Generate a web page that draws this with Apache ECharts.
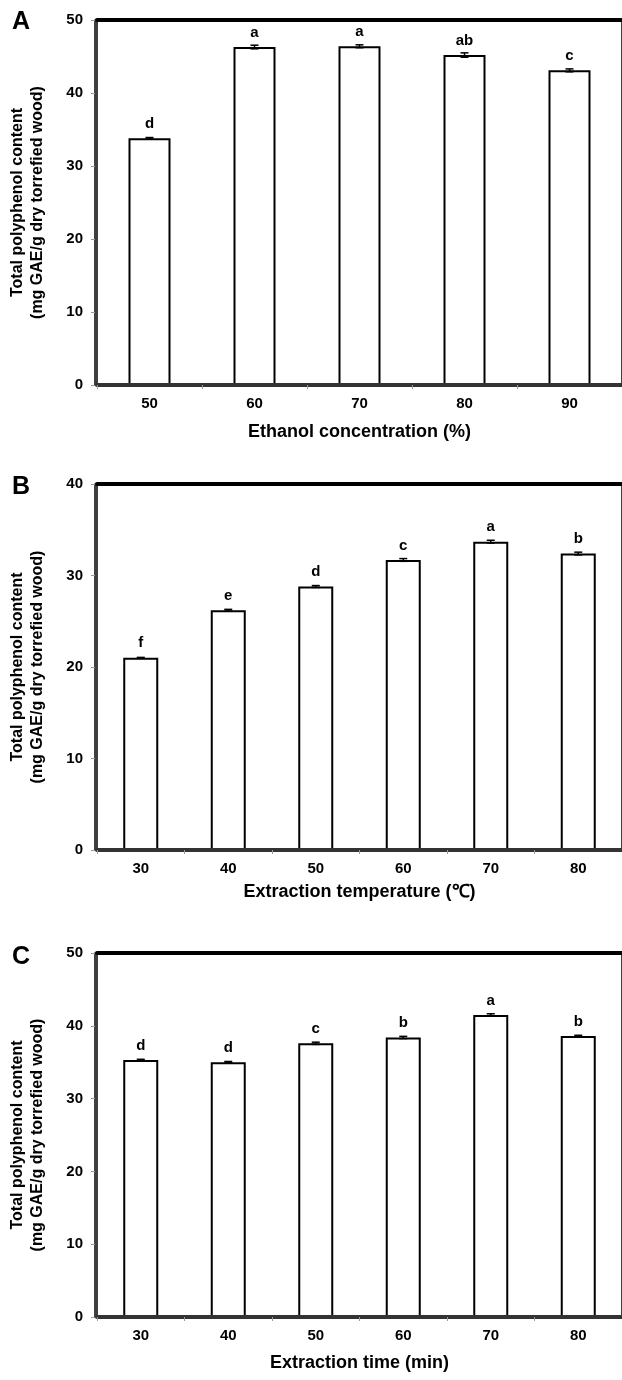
<!DOCTYPE html>
<html>
<head>
<meta charset="utf-8">
<script src="https://cdn.jsdelivr.net/npm/echarts@6/dist/echarts.min.js"></script>
<style>html,body{margin:0;padding:0;background:#fff;}#c{width:622px;height:1380px;}</style>
</head>
<body>
<div id="c"></div>
<script>
// Panel A
const catA = ['50', '60', '70', '80', '90'];
const valA = [33.8, 46.3, 46.4, 45.2, 43.1];
const errA = [0.1, 0.25, 0.2, 0.3, 0.2];
const letA = ['d', 'a', 'a', 'ab', 'c'];
// Panel B
const catB = ['30', '40', '50', '60', '70', '80'];
const valB = [21.0, 26.2, 28.8, 31.7, 33.7, 32.4];
const errB = [0.05, 0.1, 0.1, 0.15, 0.15, 0.15];
const letB = ['f', 'e', 'd', 'c', 'a', 'b'];
// Panel C
const catC = ['30', '40', '50', '60', '70', '80'];
const valC = [35.3, 35.0, 37.6, 38.4, 41.5, 38.6];
const errC = [0.1, 0.1, 0.15, 0.15, 0.15, 0.1];
const letC = ['d', 'd', 'c', 'b', 'a', 'b'];

const yTitle = 'Total polyphenol content\n(mg GAE/g dry torrefied wood)';
const xTitles = ['Ethanol concentration (%)', 'Extraction temperature (\u2103)', 'Extraction time (min)'];
const yMax = [50, 40, 50];
const panelLetters = ['A', 'B', 'C'];

const FONT = "'Liberation Sans', Arial, sans-serif";
const panels = [
  {cat: catA, val: valA, err: errA, let: letA},
  {cat: catB, val: valB, err: errB, let: letB},
  {cat: catC, val: valC, err: errC, let: letC}
];
const gridTops = [20, 484, 953];
const gridHeights = [365, 366, 364];
const xNameGaps = [38, 33, 37];
const letterTops = [5, 470, 940];

const chart = echarts.init(document.getElementById('c'), null, {renderer: 'canvas'});
const option = {
  animation: false,
  backgroundColor: '#fff',
  title: [], grid: [], xAxis: [], yAxis: [], series: []
};

panels.forEach((p, i) => {
  option.title.push({
    text: panelLetters[i], left: 7, top: letterTops[i],
    textStyle: {fontFamily: FONT, fontWeight: 'bold', fontSize: 25, color: '#000'}
  });
  option.grid.push({
    left: 97, top: gridTops[i], width: 530, height: gridHeights[i],
    show: true, borderColor: '#000', borderWidth: 1.5, backgroundColor: 'transparent'
  });
  // bottom axis
  option.xAxis.push({
    type: 'category', gridIndex: i, data: p.cat, position: 'bottom',
    name: xTitles[i], nameLocation: 'middle', nameGap: xNameGaps[i],
    nameTextStyle: {fontFamily: FONT, fontWeight: 'bold', fontSize: 18, color: '#000'},
    axisLine: {lineStyle: {color: '#333', width: 4}},
    axisTick: {show: true, length: 4, lineStyle: {color: '#999', width: 1}},
    axisLabel: {margin: 11, fontFamily: FONT, fontWeight: 'bold', fontSize: 15, color: '#000'},
    z: 5
  });
  // top border line
  option.xAxis.push({
    type: 'category', gridIndex: i, data: p.cat, position: 'top',
    axisLine: {lineStyle: {color: '#000', width: 4}},
    axisTick: {show: false}, axisLabel: {show: false}
  });
  option.yAxis.push({
    type: 'value', gridIndex: i, min: 0, max: yMax[i], interval: 10, offset: 2,
    name: yTitle, nameLocation: 'middle', nameGap: 47, nameRotate: 90,
    nameTextStyle: {fontFamily: FONT, fontWeight: 'bold', fontSize: 16, lineHeight: 20, color: '#000', align: 'center'},
    axisLine: {show: true, lineStyle: {color: '#000', width: 1.5}},
    axisTick: {show: true, length: 4, lineStyle: {color: '#999', width: 1}},
    axisLabel: {margin: 12, fontFamily: FONT, fontWeight: 'bold', fontSize: 15, color: '#000'},
    splitLine: {show: false}
  });
  option.series.push({
    type: 'bar', xAxisIndex: i * 2, yAxisIndex: i, data: p.val, barWidth: '40%',
    itemStyle: {color: '#fff', borderColor: '#000', borderWidth: 2},
    label: {
      show: true, position: 'top', distance: 7,
      formatter: (params) => p.let[params.dataIndex],
      fontFamily: FONT, fontWeight: 'bold', fontSize: 15, color: '#000'
    },
    z: 3
  });
  option.series.push({
    type: 'custom', xAxisIndex: i * 2, yAxisIndex: i,
    data: p.val.map((v, k) => [k, v, p.err[k]]),
    renderItem: (params, api) => {
      const x = api.value(0), v = api.value(1), e = api.value(2);
      const hi = api.coord([x, v + e]);
      const lo = api.coord([x, v - e]);
      const hw = 4;
      const st = {stroke: '#000', lineWidth: 1.5};
      return {
        type: 'group',
        children: [
          {type: 'line', shape: {x1: hi[0], y1: hi[1], x2: lo[0], y2: lo[1]}, style: st},
          {type: 'line', shape: {x1: hi[0] - hw, y1: hi[1], x2: hi[0] + hw, y2: hi[1]}, style: st},
          {type: 'line', shape: {x1: lo[0] - hw, y1: lo[1], x2: lo[0] + hw, y2: lo[1]}, style: st}
        ]
      };
    },
    z: 4
  });
});

chart.setOption(option);
</script>
</body>
</html>
